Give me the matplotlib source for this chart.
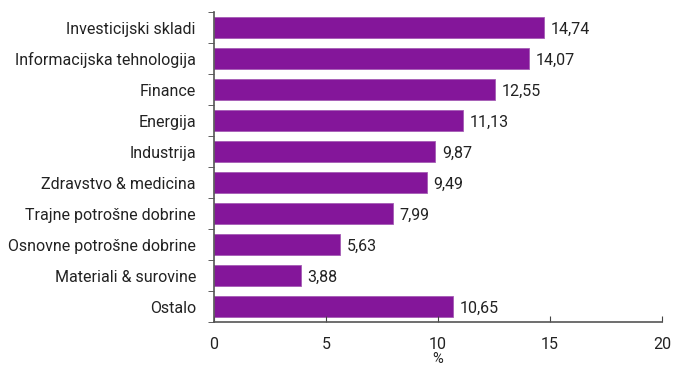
import numpy as np
import matplotlib.pyplot as plt

categories = [
    "Investicijski skladi",
    "Informacijska tehnologija",
    "Finance",
    "Energija",
    "Industrija",
    "Zdravstvo & medicina",
    "Trajne potrošne dobrine",
    "Osnovne potrošne dobrine",
    "Materiali & surovine",
    "Ostalo",
]
values = [14.74, 14.07, 12.55, 11.13, 9.87, 9.49, 7.99, 5.63, 3.88, 10.65]
xticks = [0, 5, 10, 15, 20]

plt.rcParams["font.family"] = ["Roboto", "DejaVu Sans"]

fig = plt.figure(figsize=(6.73, 3.69), dpi=100)
ax = fig.add_axes([0.318, 0.127, 0.666, 0.840])

y = np.arange(len(categories))
ax.barh(y, values, height=0.68, color="#84169a", edgecolor="#a55cb5", linewidth=0.6)
for yi, v in zip(y, values):
    ax.text(v + 0.3, yi + 0.05, f"{v:.2f}".replace(".", ","), va="center", ha="left",
            fontsize=11.5, color="#222222")

ax.set_ylim(len(categories) - 0.5, -0.5)
ax.set_xlim(0, 20)
ax.set_yticks(y)
ax.set_yticklabels(categories, fontsize=11.5, color="#222222")
ax.set_yticks(np.arange(-0.5, len(categories)), minor=True)
ax.tick_params(axis="y", which="major", length=0, pad=13)
ax.tick_params(axis="y", which="minor", length=4, direction="out", color="#444444")
ax.set_xticks(xticks)
ax.set_xticklabels([str(t) for t in xticks], fontsize=11.5, color="#222222")
ax.tick_params(axis="x", length=4, direction="in", color="#444444", pad=11)
ax.set_xlabel("%", fontsize=10.5, color="#222222", labelpad=0)

for side in ["top", "right"]:
    ax.spines[side].set_visible(False)
for side in ["left", "bottom"]:
    ax.spines[side].set_color("#555555")
    ax.spines[side].set_linewidth(1.2)

fig.savefig("out.png", dpi=100)
